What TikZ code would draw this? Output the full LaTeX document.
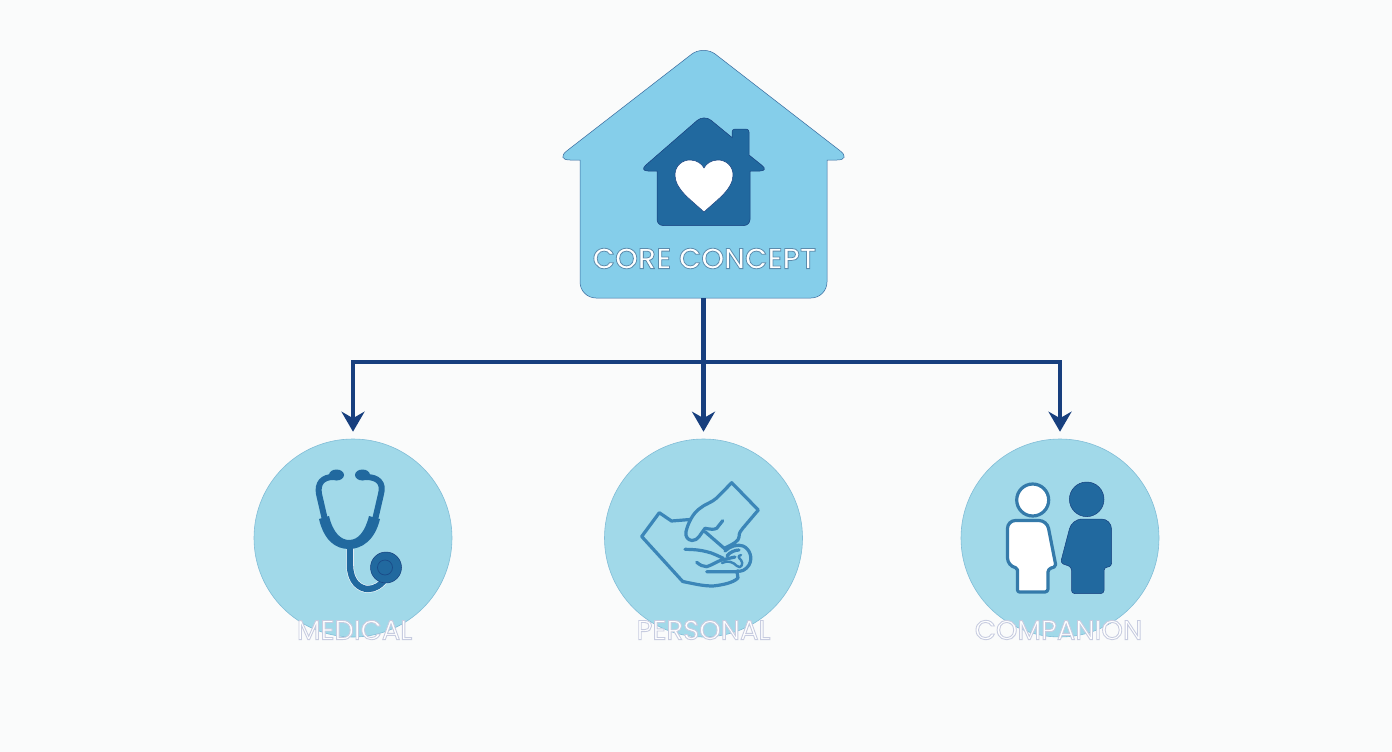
\documentclass[tikz,border=0pt]{standalone}
\usepackage{fontspec}
\setmainfont{Poppins}
\newfontfamily\corefont{Poppins Medium}
\usetikzlibrary{arrows.meta,calc}
\definecolor{bgc}{HTML}{FAFBFB}
\definecolor{housec}{HTML}{85CEEA}
\definecolor{circc}{HTML}{A1D9E9}
\definecolor{deep}{HTML}{21699F}
\definecolor{navy}{HTML}{173F7E}
\definecolor{mid}{HTML}{3B86B8}
\newcommand{\outl}[3]{\special{pdf:code q 2 Tr #1 w #2 RG 1 1 1 rg}#3\special{pdf:code Q}}
\tikzset{
 conn/.style={navy,line width=4.1pt,-{Stealth[length=20pt,width=23pt,inset=6.5pt]},shorten >=7pt},
 disc/.style={circle,fill=circc,draw=circc!75!deep,line width=.6pt,minimum size=198pt,inner sep=0pt},
 iconfill/.style={fill=deep,line join=round},
 tube/.style={draw=deep,line width=6pt,line join=round},
 handline/.style={draw=mid,line width=3.2pt,line cap=round,line join=round},
 sublabel/.style={inner sep=0pt,font=\fontsize{27.4}{27.4}\selectfont},
}
\begin{document}
\begin{tikzpicture}[x=1pt,y=-1pt]
\useasboundingbox (0,0) rectangle (1392,752);
\fill[bgc] (0,0) rectangle (1392,752);
% house
\draw[fill=housec,draw=navy!70!housec,line width=.5pt,rounded corners=15pt]
 (703.5,45) -- (852,160) [sharp corners]-- (827,160) [rounded corners=16pt]-- (827,298) -- (580,298) [sharp corners]-- (580,160) [rounded corners=15pt]-- (555,160) -- cycle;
\coordinate (core) at (703.5,298);
% inner house
\draw[fill=deep,draw=navy,line width=.5pt]
 (704,114.5) [sharp corners]-- (732,137.5) [rounded corners=3pt]-- (732,129) -- (749,129) [sharp corners]-- (749,155) [rounded corners=9pt]-- (769,171) [sharp corners]-- (750,171) [rounded corners=6pt]-- (750,225.5) -- (657,225.5) [sharp corners]-- (657,171) [rounded corners=9pt]-- (639,171) -- cycle;
% heart
\draw[fill=white,draw=navy,line width=.5pt]
 (704,212) .. controls (690,199) and (675,189) .. (675,175)
 .. controls (675,165) and (683,160) .. (690,160)
 .. controls (697,160) and (702,164) .. (704,168)
 .. controls (706,164) and (711,160) .. (718,160)
 .. controls (725,160) and (733,165) .. (733,175)
 .. controls (733,189) and (718,199) .. (704,212) -- cycle;
\node[inner sep=0pt,font=\corefont\fontsize{29}{29}\selectfont] (corelabel) at (704.5,258.5) {\outl{.8}{.36 .55 .68}{CORE CONCEPT}};
% circles
\node[disc] (med) at (353,538) {};
\node[disc] (per) at (703.5,538) {};
\node[disc] (com) at (1060,538) {};
% connectors
\draw[conn] (core) -- (per.north);
\draw[conn] (core) -- ++(0,64) -| (med.north);
\draw[conn] (core) -- ++(0,64) -| (com.north);
% stethoscope
\draw[white,line width=7.5pt,line join=round] (350,546) -- (350,565) .. controls (350,582) and (360,589) .. (368,589) .. controls (375,589) and (381,585) .. (386,578);
\draw[tube,line width=6.4pt] (350,546) -- (350,565) .. controls (350,582) and (360,589) .. (368,589) .. controls (375,589) and (381,585) .. (386,578);
\draw[tube] (333,477) .. controls (323,477) and (317,483) .. (319,494) -- (325,520);
\draw[tube] (366,477) .. controls (378,477) and (384,483) .. (381,494) -- (375,520);
\fill[iconfill] (319,519) -- (329,516) .. controls (333,533) and (341,540) .. (349,540) .. controls (358,540) and (365,532) .. (369,516) -- (380,519) .. controls (375,540) and (362,549) .. (349,549) .. controls (335,549) and (324,540) .. (319,519) -- cycle;
\fill[iconfill] (336.5,475) ellipse [x radius=7.5,y radius=5.5];
\fill[iconfill] (362.5,475) ellipse [x radius=7.5,y radius=5.5];
\draw[fill=deep,draw=navy,line width=.5pt] (386,567.5) circle [radius=15.5];
\draw[navy!70!deep,line width=.7pt] (385,567.5) circle [radius=7.5];
% hand
\draw[handline] (690,519.5) -- (671.5,521) -- (659.3,512.7) -- (641.7,536.5) -- (682.7,581.5) .. controls (695,584) and (703,586) .. (713,586) .. controls (722,585) and (733,583) .. (738,578) -- (737,571.7) -- (706.7,571.7);
\draw[handline] (725,548) .. controls (733,544) and (739,541) .. (739,537) .. controls (739,532) and (741,531) .. (743,528) -- (758.3,510) -- (731.7,482.7) -- (716.7,498) .. controls (711,503) and (705,504) .. (700,508.3) .. controls (693,513) and (688,523) .. (686,531.7) .. controls (685,537) and (688,540) .. (692,540.5) .. controls (698,541) and (701,533) .. (705,528.3) .. controls (709,529) and (714,530) .. (716.7,528.3) -- (722.7,520.7);
\draw[handline] (705,531.7) -- (725,549);
\draw[handline] (685,549.3) .. controls (695,549.5) and (700,550) .. (706.7,551.7) .. controls (713,553) and (718,556) .. (723.3,558.3);
\draw[handline] (696.7,562.3) .. controls (700,565) and (703,566.7) .. (706.7,566.7) .. controls (712,565) and (718,561) .. (721.7,560) -- (735,557);
\draw[handline] (725,551) .. controls (730,546) and (738,544) .. (743,546) .. controls (750,549) and (753,558) .. (749,565) .. controls (746,570) and (741,572) .. (737,571);
\draw[handline] (727,556) .. controls (730,552) and (735,550) .. (739,550);
\draw[handline,line width=2.4pt] (722,563) .. controls (728,560) and (733,562) .. (737,566) .. controls (741,570) and (744,563) .. (741,560) .. controls (739,558) and (737,556) .. (741,555);
% people
\draw[fill=white,draw=deep!85!circc,line width=3.2pt] (1032.7,500) circle [radius=16];
\draw[fill=white,draw=deep!85!circc,line width=3.2pt,line join=round,rounded corners=8pt]
 (1030,520.5) -- (1007.5,520.5) -- (1007.5,566) [rounded corners=2pt]-- (1017.5,568) -- (1017.5,592) [rounded corners=3pt]-- (1048,592) -- (1048,569) [rounded corners=2pt]-- (1056,566.5) [rounded corners=8pt]-- (1047,520.5) -- cycle;
\draw[fill=deep,draw=navy,line width=.5pt] (1086.7,499.3) circle [radius=17.3];
\draw[fill=deep,draw=navy,line width=.5pt,rounded corners=10pt]
 (1090,519) -- (1111.5,519) [rounded corners=3pt]-- (1111.5,566.5) -- (1104,567.5) -- (1104,593.5) -- (1071.5,593.5) -- (1071.5,567) -- (1060.5,563) [rounded corners=10pt]-- (1072,519) -- cycle;
% labels
\node[sublabel] (medlabel) at (354.5,630) {\outl{.9}{.78 .80 .88}{MEDICAL}};
\node[sublabel] (perlabel) at (703.5,630) {\outl{.9}{.78 .80 .88}{PERSONAL}};
\node[sublabel] (comlabel) at (1058.5,630) {\outl{.9}{.78 .80 .88}{COMPANION}};
\end{tikzpicture}
\end{document}
